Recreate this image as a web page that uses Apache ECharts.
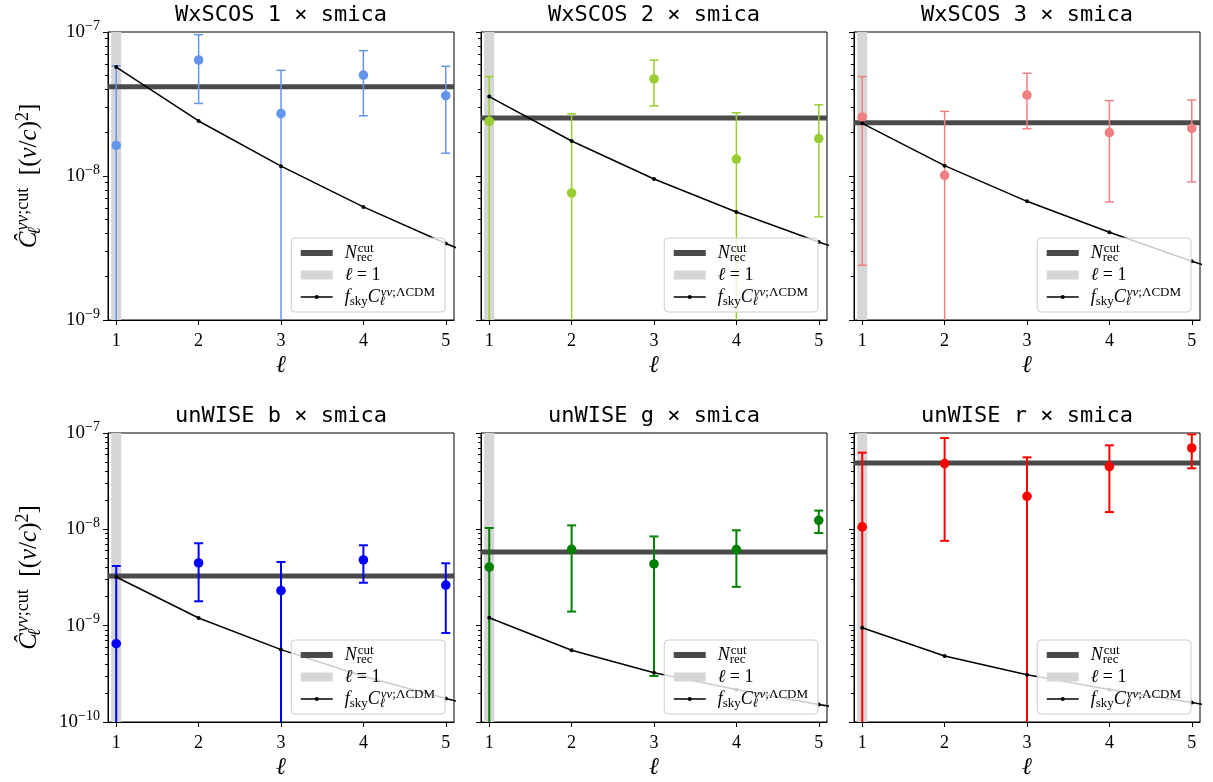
<!DOCTYPE html>
<html><head><meta charset="utf-8">
<script src="https://cdn.jsdelivr.net/npm/echarts@6/dist/echarts.min.js"></script>
<style>html,body{margin:0;padding:0;background:#fff}#c{width:1213px;height:782px}</style>
</head><body><div id="c"></div><script>
// ---------- data ----------
const titles = ['WxSCOS 1 × smica','WxSCOS 2 × smica','WxSCOS 3 × smica','unWISE b × smica','unWISE g × smica','unWISE r × smica'];
const colors = ['#6495ED','#9ACD32','#F08080','#0000FF','#008000','#FF0000'];
const ells = [1,2,3,4,5];
const theoryElls = [1,2,3,4,5,6];
const xTicks = [1,2,3,4,5];
const topDecades = [1e-9,1e-8,1e-7];
const bottomDecades = [1e-10,1e-9,1e-8,1e-7];
const minorMantissas = [2,3,4,5,6,7,8,9];

const wx1Cl     = [1.63e-8, 6.39e-8, 2.71e-8, 5.02e-8, 3.61e-8];
const wx1Sigma  = [4.20e-8, 3.20e-8, 2.71e-8, 2.40e-8, 2.17e-8];
const wx1Theory = [5.71e-8, 2.41e-8, 1.17e-8, 6.10e-9, 3.40e-9, 2.00e-9];
const wx1Nrec   = 4.17e-8;

const wx2Cl     = [2.40e-8, 7.62e-9, 4.72e-8, 1.31e-8, 1.82e-8];
const wx2Sigma  = [2.50e-8, 1.94e-8, 1.65e-8, 1.44e-8, 1.30e-8];
const wx2Theory = [3.56e-8, 1.75e-8, 9.53e-9, 5.62e-9, 3.48e-9, 2.22e-9];
const wx2Nrec   = 2.53e-8;

const wx3Cl     = [2.57e-8, 1.01e-8, 3.65e-8, 2.00e-8, 2.14e-8];
const wx3Sigma  = [2.33e-8, 1.80e-8, 1.52e-8, 1.34e-8, 1.23e-8];
const wx3Theory = [2.32e-8, 1.18e-8, 6.67e-9, 4.07e-9, 2.56e-9, 1.66e-9];
const wx3Nrec   = 2.34e-8;

const unbCl     = [6.50e-10, 4.48e-9, 2.31e-9, 4.81e-9, 2.64e-9];
const unbSigma  = [3.51e-9, 2.69e-9, 2.27e-9, 2.02e-9, 1.80e-9];
const unbTheory = [3.20e-9, 1.20e-9, 5.64e-10, 2.98e-10, 1.75e-10, 1.08e-10];
const unbNrec   = 3.28e-9;

const ungCl     = [4.06e-9, 6.20e-9, 4.37e-9, 6.15e-9, 1.24e-8];
const ungSigma  = [6.27e-9, 4.80e-9, 4.07e-9, 3.62e-9, 3.25e-9];
const ungTheory = [1.21e-9, 5.55e-10, 3.25e-10, 2.17e-10, 1.52e-10, 1.11e-10];
const ungNrec   = 5.82e-9;

const unrCl     = [1.06e-8, 4.81e-8, 2.20e-8, 4.48e-8, 6.99e-8];
const unrSigma  = [5.19e-8, 4.05e-8, 3.39e-8, 2.97e-8, 2.69e-8];
const unrTheory = [9.53e-10, 4.84e-10, 3.10e-10, 2.18e-10, 1.59e-10, 1.17e-10];
const unrNrec   = 4.88e-8;

// ---------- layout ----------
const panels = [
  {cl: wx1Cl, sigma: wx1Sigma, theory: wx1Theory, nrec: wx1Nrec, row: 0, col: 0, lw: 1.5},
  {cl: wx2Cl, sigma: wx2Sigma, theory: wx2Theory, nrec: wx2Nrec, row: 0, col: 1, lw: 1.5},
  {cl: wx3Cl, sigma: wx3Sigma, theory: wx3Theory, nrec: wx3Nrec, row: 0, col: 2, lw: 1.5},
  {cl: unbCl, sigma: unbSigma, theory: unbTheory, nrec: unbNrec, row: 1, col: 0, lw: 2},
  {cl: ungCl, sigma: ungSigma, theory: ungTheory, nrec: ungNrec, row: 1, col: 1, lw: 2},
  {cl: unrCl, sigma: unrSigma, theory: unrTheory, nrec: unrNrec, row: 1, col: 2, lw: 2}
];
const W = 1213, H = 782;
const colLeft = [108, 481, 854], colW = 346;
const rowTop = [32, 433], rowH = [288, 289];
const rowDecades = [topDecades, bottomDecades];
const xMin = 0.9, xMax = 5.1;
const SERIF = "'Liberation Serif', 'DejaVu Serif', serif";

function minorsFor(decs) {
  const out = [];
  for (let k = 0; k < decs.length - 1; k++) minorMantissas.forEach(m => out.push(m * decs[k]));
  return out;
}
const mathRich = {
  r:   {fontFamily: SERIF, fontSize: 18, lineHeight: 22, color: '#000'},
  i:   {fontFamily: SERIF, fontSize: 18, lineHeight: 22, fontStyle: 'italic', color: '#000'},
  sup: {fontFamily: SERIF, fontSize: 13, lineHeight: 11, verticalAlign: 'top', color: '#000'},
  supi:{fontFamily: SERIF, fontSize: 13, lineHeight: 11, verticalAlign: 'top', fontStyle: 'italic', color: '#000'},
  sub: {fontFamily: SERIF, fontSize: 13, lineHeight: 11, verticalAlign: 'bottom', color: '#000'},
  subi:{fontFamily: SERIF, fontSize: 13, lineHeight: 11, verticalAlign: 'bottom', fontStyle: 'italic', color: '#000', width: 1},
  subw:{fontFamily: SERIF, fontSize: 13, lineHeight: 11, verticalAlign: 'bottom', color: '#000', width: 1},
  g:   {width: 7}
};
const legendLabels = {
  nrec: '{g| }{i|N}{subw|rec}{sup|cut}',
  ell1: '{g| }{i|ℓ}{r| = 1}',
  theory: '{g| }{i|f}{sub|sky}{i|C}{subi|ℓ}{supi|vv}{sup|;ΛCDM}'
};
const yName = '{i|Ĉ}{subi|ℓ}{supi|vv}{sup|;cut}{r|  [(}{i|v}{r|/}{i|c}{r|)}{sup|2}{r|]}';
const yNameRich = {
  r:   {fontFamily: SERIF, fontSize: 25, lineHeight: 30, color: '#000'},
  i:   {fontFamily: SERIF, fontSize: 25, lineHeight: 30, fontStyle: 'italic', color: '#000'},
  sup: {fontFamily: SERIF, fontSize: 18, lineHeight: 14, verticalAlign: 'top', color: '#000'},
  supi:{fontFamily: SERIF, fontSize: 18, lineHeight: 14, verticalAlign: 'top', fontStyle: 'italic', color: '#000'},
  subi:{fontFamily: SERIF, fontSize: 18, lineHeight: 14, verticalAlign: 'bottom', fontStyle: 'italic', color: '#000', width: 1}
};
const hiddenSymbol = {color: 'rgba(0,0,0,0)', borderWidth: 0, opacity: 0};

const grid = [], xAxis = [], yAxis = [], series = [], legend = [], graphic = [];
panels.forEach((p, i) => {
  const left = colLeft[p.col], top = rowTop[p.row], h = rowH[p.row];
  const decs = rowDecades[p.row];
  const yMin = decs[0], yMax = decs[decs.length - 1];
  const color = colors[i];
  grid.push({left, top, width: colW, height: h, show: true, borderColor: '#000', borderWidth: 1,
             backgroundColor: 'transparent', containLabel: false, outerBoundsMode: 'none'});
  xAxis.push({
    gridIndex: i, type: 'value', min: xMin, max: xMax,
    axisLine: {show: true, onZero: false, lineStyle: {color: '#000', width: 1}},
    axisTick: {show: true, customValues: xTicks, length: 5, lineStyle: {color: '#000', width: 1}},
    axisLabel: {customValues: xTicks, margin: 12, fontFamily: SERIF, fontSize: 18, color: '#000'},
    splitLine: {show: false},
    name: 'ℓ', nameLocation: 'middle', nameGap: 34, nameMoveOverlap: false,
    nameTextStyle: {fontFamily: SERIF, fontStyle: 'italic', fontSize: 24, color: '#000'}
  });
  const major = {
    gridIndex: i, type: 'log', logBase: 10, min: yMin, max: yMax, position: 'left',
    axisLine: {show: true, lineStyle: {color: '#000', width: 1}},
    axisTick: {show: true, customValues: decs, length: 5, lineStyle: {color: '#000', width: 1}},
    axisLabel: {
      show: p.col === 0, customValues: decs, margin: 8,
      formatter: v => '{b|10}{e|−' + Math.abs(Math.round(Math.log10(v))) + '}',
      rich: {
        b: {fontFamily: SERIF, fontSize: 19, lineHeight: 26, color: '#000'},
        e: {fontFamily: SERIF, fontSize: 14, lineHeight: 12, verticalAlign: 'top', color: '#000'}
      }
    },
    splitLine: {show: false}, minorTick: {show: false}
  };
  if (p.col === 0) {
    major.name = yName;
    major.nameLocation = 'middle';
    major.nameRotate = 90;
    major.nameGap = 64;
    major.nameMoveOverlap = false;
    major.nameTextStyle = {rich: yNameRich};
  }
  yAxis.push(major);
  yAxis.push({
    gridIndex: i, type: 'log', logBase: 10, min: yMin, max: yMax, position: 'left',
    axisLine: {show: false},
    axisTick: {show: true, customValues: minorsFor(decs), length: 3, lineStyle: {color: '#000', width: 1}},
    axisLabel: {show: false}, splitLine: {show: false}
  });
  const yi = 2 * i;
  series.push({
    type: 'line', name: 'ell1', xAxisIndex: i, yAxisIndex: yi,
    data: [[1, yMin], [1, yMax]], symbol: 'none',
    lineStyle: {color: '#d6d6d6', width: 10, cap: 'butt'}, z: 1, silent: true
  });
  series.push({
    type: 'line', name: 'nrec', xAxisIndex: i, yAxisIndex: yi,
    data: [[xMin, p.nrec], [xMax, p.nrec]], symbol: 'none',
    lineStyle: {color: '#4a4a4a', width: 5}, z: 2, silent: true
  });
  series.push({
    type: 'custom', name: 'data' + i, xAxisIndex: i, yAxisIndex: yi, clip: true, z: 3,
    encode: {x: 0, y: 1},
    data: ells.map((l, k) => {
      const lo = p.cl[k] - p.sigma[k];
      return [l, p.cl[k], lo > 0 ? lo : yMin * 1e-3, p.cl[k] + p.sigma[k]];
    }),
    renderItem: (params, api) => {
      const x = api.value(0);
      const c = api.coord([x, api.value(1)]);
      const lo = api.coord([x, api.value(2)]);
      const hi = api.coord([x, api.value(3)]);
      const cap = 4.5;
      const st = {stroke: color, lineWidth: p.lw};
      return {type: 'group', children: [
        {type: 'line', shape: {x1: c[0], y1: lo[1], x2: c[0], y2: hi[1]}, style: st},
        {type: 'line', shape: {x1: c[0] - cap, y1: hi[1], x2: c[0] + cap, y2: hi[1]}, style: st},
        {type: 'line', shape: {x1: c[0] - cap, y1: lo[1], x2: c[0] + cap, y2: lo[1]}, style: st},
        {type: 'circle', shape: {cx: c[0], cy: c[1], r: 4.8}, style: {fill: color}}
      ]};
    }
  });
  series.push({
    type: 'line', name: 'theory', xAxisIndex: i, yAxisIndex: yi, clip: true,
    data: theoryElls.map((l, k) => [l, p.theory[k]]),
    symbol: 'circle', symbolSize: 4, showSymbol: true,
    itemStyle: {color: '#000'}, lineStyle: {color: '#000', width: 1.5}, z: 4, silent: true
  });
  legend.push({
    orient: 'vertical', align: 'left', z: 10,
    right: W - (left + colW - 9), bottom: H - (top + h - 8),
    data: [
      {name: 'nrec', lineStyle: {width: 6, color: '#4a4a4a'}, itemStyle: hiddenSymbol},
      {name: 'ell1', lineStyle: {width: 9, color: '#d6d6d6'}, itemStyle: hiddenSymbol},
      {name: 'theory', lineStyle: {width: 1.5, color: '#000'}, itemStyle: {color: '#000'}}
    ],
    itemWidth: 32, itemHeight: 5, itemGap: 2, selectedMode: false,
    backgroundColor: 'rgba(255,255,255,0.8)', borderColor: '#cccccc', borderWidth: 1, borderRadius: 4,
    padding: [4, 10, 4, 5],
    formatter: n => legendLabels[n],
    textStyle: {rich: mathRich}
  });
  graphic.push({
    type: 'text', x: left + colW / 2, y: top - 17,
    style: {text: titles[i], fontFamily: "'DejaVu Sans Mono', monospace", fontSize: 22, fill: '#000',
            align: 'center', verticalAlign: 'middle'}
  });
});

const chart = echarts.init(document.getElementById('c'), null, {renderer: 'canvas'});
chart.setOption({
  animation: false, backgroundColor: '#fff',
  grid, xAxis, yAxis, series, legend, graphic, tooltip: {show: false}
});
</script></body></html>
